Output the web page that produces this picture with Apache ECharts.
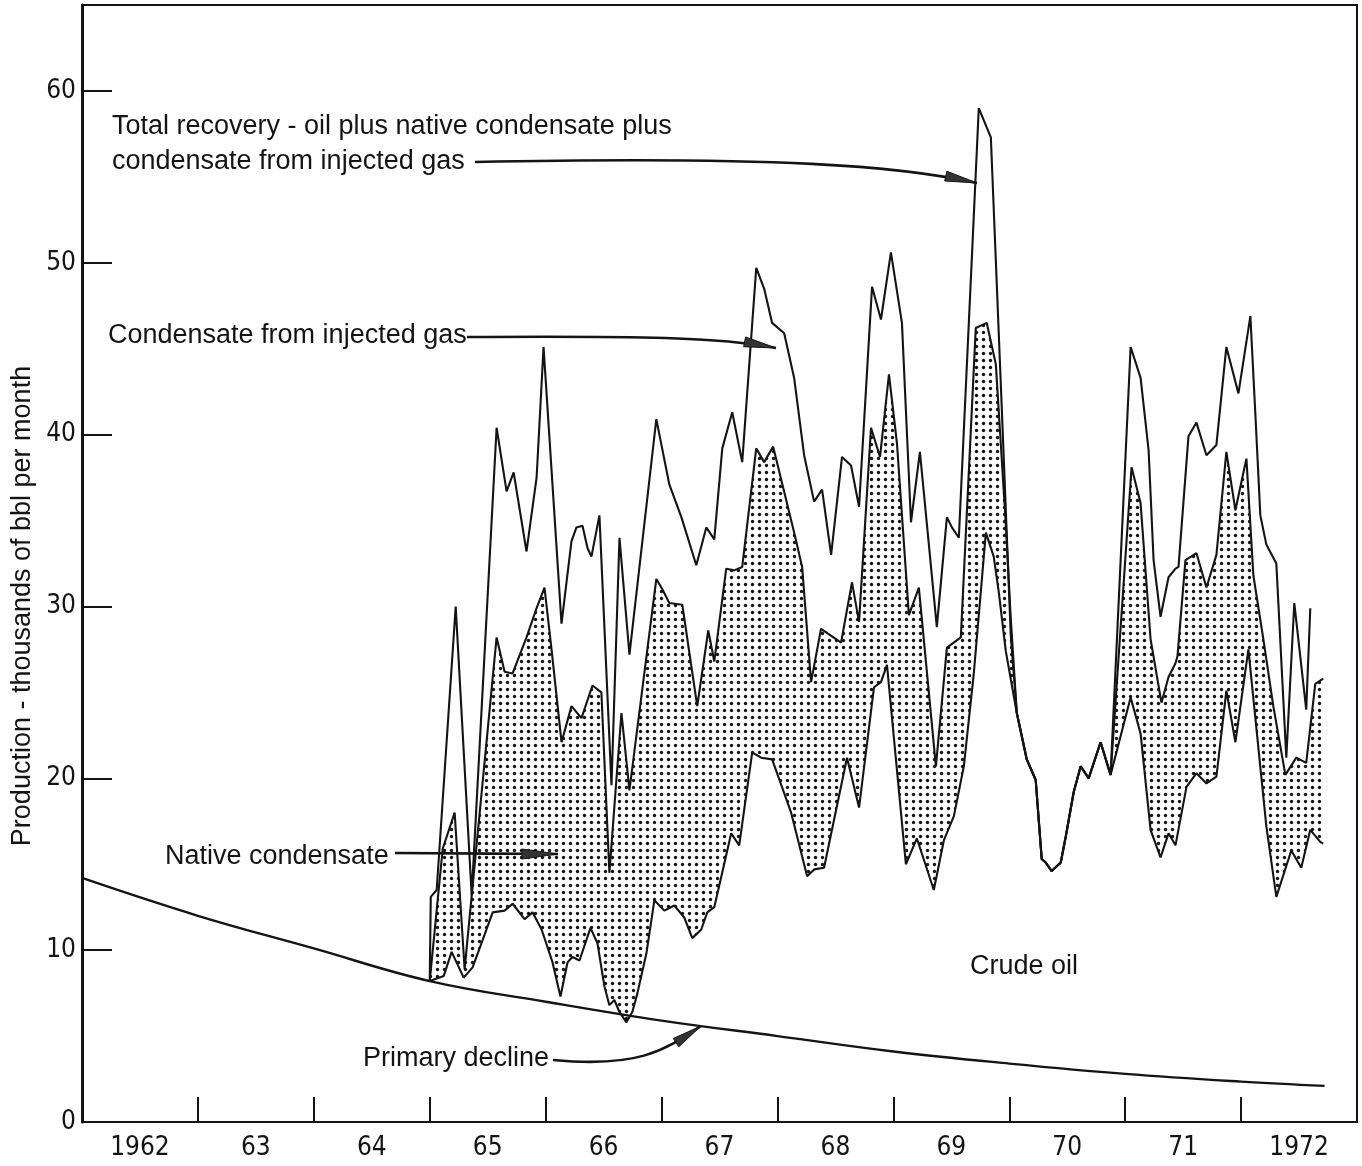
<!DOCTYPE html>
<html>
<head>
<meta charset="utf-8">
<script src="https://cdn.jsdelivr.net/npm/echarts@6/dist/echarts.min.js"></script>
<style>
html,body{margin:0;padding:0;background:#fff;}
#chart{width:1362px;height:1166px;}
</style>
</head>
<body>
<div id="chart"></div>
<script>
// ---- Data (x = fractional year, y = thousand bbl per month) ----
const yearLabels = ['1962','63','64','65','66','67','68','69','70','71','1972'];
const yTickValues = [0,10,20,30,40,50,60];

const primaryDecline = [[1962,14.2],[1963,12.0],[1964,10.1],[1965,8.2],[1966,7.0],[1967,5.9],[1968,5.0],[1969,4.1],[1970,3.4],[1971,2.8],[1972,2.35],[1972.72,2.1]];

// section where all three curves coincide (no condensate)
const combinedFlow = [[1970.065,23.8],[1970.151,21.1],[1970.228,19.9],[1970.280,15.3],[1970.314,15.1],[1970.366,14.6],[1970.444,15.1],[1970.487,16.6],[1970.556,19.2],[1970.616,20.7],[1970.685,20.0],[1970.788,22.1],[1970.874,20.2]];

const totalEarly = [[1965.000,8.2],[1965.009,13.1],[1965.060,13.5],[1965.224,30.0],[1965.362,13.2],[1965.577,40.4],[1965.663,36.7],[1965.724,37.8],[1965.835,33.2],[1965.922,37.5],[1965.982,45.1],[1966.137,29.0],[1966.223,33.8],[1966.266,34.6],[1966.318,34.7],[1966.361,33.4],[1966.395,32.9],[1966.464,35.3],[1966.568,19.6],[1966.637,34.0],[1966.723,27.2],[1966.955,40.9],[1967.067,37.1],[1967.171,35.2],[1967.300,32.4],[1967.386,34.6],[1967.455,33.9],[1967.524,39.2],[1967.610,41.3],[1967.696,38.4],[1967.817,49.7],[1967.885,48.5],[1967.954,46.5],[1968.058,45.9],[1968.144,43.3],[1968.230,38.8],[1968.316,36.1],[1968.385,36.8],[1968.463,33.0],[1968.557,38.7],[1968.635,38.2],[1968.704,35.8],[1968.816,48.6],[1968.893,46.7],[1968.979,50.6],[1969.074,46.5],[1969.152,34.9],[1969.229,39.0],[1969.375,28.8],[1969.462,35.2],[1969.505,34.6],[1969.565,34.0],[1969.737,59.0],[1969.841,57.3],[1969.935,41.6],[1970.013,28.3]];
const totalLate = [[1971.047,45.1],[1971.133,43.3],[1971.202,39.1],[1971.245,32.7],[1971.305,29.4],[1971.374,31.7],[1971.434,32.2],[1971.460,32.3],[1971.546,39.9],[1971.615,40.7],[1971.701,38.8],[1971.787,39.4],[1971.873,45.1],[1971.977,42.4],[1972.080,46.9],[1972.123,41.2],[1972.166,35.3],[1972.218,33.6],[1972.304,32.5],[1972.390,21.2],[1972.459,30.2],[1972.562,24.0],[1972.597,29.9]];

const oilNativeEarly = [[1965.000,8.2],[1965.112,15.9],[1965.215,18.0],[1965.301,8.9],[1965.577,28.2],[1965.646,26.2],[1965.715,26.1],[1965.835,28.2],[1965.922,29.9],[1965.990,31.1],[1966.051,27.5],[1966.137,22.1],[1966.223,24.2],[1966.309,23.5],[1966.404,25.4],[1966.481,25.0],[1966.550,14.5],[1966.654,23.8],[1966.723,19.3],[1966.955,31.6],[1967.007,31.0],[1967.067,30.2],[1967.179,30.1],[1967.308,24.2],[1967.403,28.6],[1967.455,26.8],[1967.558,32.2],[1967.627,32.1],[1967.696,32.3],[1967.817,39.2],[1967.885,38.4],[1967.963,39.3],[1968.144,34.3],[1968.213,32.3],[1968.290,25.6],[1968.376,28.7],[1968.549,27.9],[1968.643,31.4],[1968.704,29.1],[1968.807,40.4],[1968.885,38.7],[1968.962,43.5],[1969.031,39.5],[1969.134,29.5],[1969.220,31.1],[1969.367,20.7],[1969.462,27.6],[1969.582,28.2],[1969.711,46.2],[1969.806,46.5],[1969.884,44.1],[1969.970,34.8],[1970.013,29.3]];
const oilNativeLate = [[1971.055,38.1],[1971.133,36.0],[1971.219,28.1],[1971.313,24.4],[1971.374,25.9],[1971.434,26.7],[1971.451,27.1],[1971.520,32.7],[1971.615,33.1],[1971.701,31.1],[1971.787,33.0],[1971.873,39.0],[1971.951,35.6],[1972.020,37.8],[1972.046,38.6],[1972.106,31.8],[1972.192,28.1],[1972.278,24.2],[1972.382,20.2],[1972.476,21.2],[1972.562,20.9],[1972.640,25.5],[1972.709,25.8]];

const crudeEarly = [[1965.000,8.2],[1965.121,8.5],[1965.189,9.9],[1965.293,8.4],[1965.370,9.0],[1965.457,10.6],[1965.543,12.2],[1965.646,12.3],[1965.715,12.7],[1965.818,11.8],[1965.887,12.2],[1965.965,11.2],[1966.059,9.3],[1966.128,7.3],[1966.189,9.3],[1966.232,9.6],[1966.292,9.4],[1966.387,11.3],[1966.447,10.4],[1966.507,7.9],[1966.550,6.8],[1966.593,7.1],[1966.637,6.4],[1966.697,5.8],[1966.748,6.4],[1966.792,7.5],[1966.869,9.8],[1966.938,12.9],[1967.024,12.3],[1967.110,12.6],[1967.196,11.9],[1967.265,10.7],[1967.343,11.2],[1967.394,12.2],[1967.455,12.5],[1967.601,16.8],[1967.670,16.1],[1967.782,21.5],[1967.860,21.2],[1967.954,21.1],[1968.118,18.0],[1968.256,14.3],[1968.316,14.7],[1968.402,14.8],[1968.600,21.2],[1968.704,18.3],[1968.833,25.3],[1968.893,25.6],[1968.945,26.6],[1969.108,15.0],[1969.203,16.5],[1969.349,13.5],[1969.436,16.4],[1969.522,17.8],[1969.608,20.7],[1969.694,26.1],[1969.798,34.3],[1969.866,32.9],[1969.910,30.8],[1969.970,27.4]];
const crudeLate = [[1971.047,24.7],[1971.133,22.6],[1971.219,17.0],[1971.305,15.4],[1971.374,16.8],[1971.434,16.1],[1971.529,19.5],[1971.615,20.3],[1971.701,19.7],[1971.787,20.1],[1971.873,25.1],[1971.951,22.1],[1972.063,27.5],[1972.218,17.2],[1972.304,13.1],[1972.433,15.8],[1972.519,14.8],[1972.597,17.0],[1972.683,16.3],[1972.709,16.2]];

const totalRecovery = totalEarly.concat(combinedFlow, totalLate);
const oilPlusNative = oilNativeEarly.concat(combinedFlow, oilNativeLate);
const crudeOil = crudeEarly.concat(combinedFlow, crudeLate);

// ---- Styling ----
const INK = '#141414';
const TXT_FONT = "'Liberation Sans', Arial, sans-serif";
const NARROW_FONT = "'Liberation Sans Narrow', 'DejaVu Sans Condensed', 'Liberation Sans', sans-serif";

const dotCanvas = document.createElement('canvas');
dotCanvas.width = 7; dotCanvas.height = 7;
(function(){
  const c = dotCanvas.getContext('2d');
  c.fillStyle = '#111';
  c.beginPath(); c.arc(3.5, 3.5, 1.65, 0, Math.PI * 2); c.fill();
})();
const dotPattern = { image: dotCanvas, repeat: 'repeat' };

function arrowHead(tip, from, len, half) {
  const dx = tip[0] - from[0], dy = tip[1] - from[1];
  const d = Math.hypot(dx, dy), ux = dx / d, uy = dy / d;
  const bx = tip[0] - ux * len, by = tip[1] - uy * len;
  return [[tip[0], tip[1]], [bx - uy * half, by + ux * half], [bx + uy * half, by - ux * half]];
}
function curveArrow(p0, c1, c2, p1, len, half) {
  return [
    { type: 'bezierCurve', z: 50, shape: { x1: p0[0], y1: p0[1], cpx1: c1[0], cpy1: c1[1], cpx2: c2[0], cpy2: c2[1], x2: p1[0], y2: p1[1] },
      style: { stroke: INK, lineWidth: 2.6, fill: null } },
    { type: 'polygon', z: 51, shape: { points: arrowHead(p1, c2, len, half) }, style: { fill: '#333', stroke: INK, lineWidth: 1 } }
  ];
}
function label(text, x, y) {
  return { type: 'text', z: 50, x: x, y: y, style: { text: text, fill: INK, font: "27px " + TXT_FONT, textVerticalAlign: 'middle', textAlign: 'left' } };
}

const chart = echarts.init(document.getElementById('chart'), null, { renderer: 'canvas' });
const option = {
  animation: false,
  backgroundColor: '#fff',
  grid: { left: 82, right: 5, top: 5, bottom: 44, show: true, borderColor: INK, borderWidth: 2, backgroundColor: 'transparent' },
  xAxis: [
    { type: 'value', min: 1962, max: 1973, show: false, position: 'top' },
    { type: 'category', data: yearLabels, boundaryGap: true, position: 'bottom',
      axisLine: { show: true, lineStyle: { color: INK, width: 2 } },
      axisTick: { show: true, inside: true, length: 25, lineStyle: { color: INK, width: 2 } },
      axisLabel: { color: INK, fontFamily: NARROW_FONT, fontSize: 26, margin: 13 },
      splitLine: { show: false } }
  ],
  yAxis: {
    type: 'value', min: 0, max: 65, interval: 10,
    axisLine: { show: true, lineStyle: { color: INK, width: 3 } },
    axisTick: { show: true, inside: true, length: 30, lineStyle: { color: INK, width: 2 }, customValues: yTickValues.slice(1) },
    axisLabel: { color: INK, fontFamily: NARROW_FONT, fontSize: 26, fontWeight: 500, margin: 6, customValues: yTickValues,
      formatter: v => (yTickValues.indexOf(v) >= 0 ? String(v) : '') },
    splitLine: { show: false }
  },
  series: [
    { type: 'custom', name: 'Native condensate', xAxisIndex: 0, yAxisIndex: 0, z: 1,
      data: [[1965, 0]],
      renderItem: function (params, api) {
        if (params.dataIndex !== 0) return;
        const pts = oilPlusNative.map(p => api.coord(p)).concat(crudeOil.slice().reverse().map(p => api.coord(p)));
        return { type: 'polygon', shape: { points: pts }, style: { fill: dotPattern, stroke: null } };
      } },
    { type: 'line', name: 'Primary decline', xAxisIndex: 0, data: primaryDecline, smooth: 0.4, showSymbol: false, z: 3,
      lineStyle: { color: INK, width: 2.4 } },
    { type: 'line', name: 'Crude oil', xAxisIndex: 0, data: crudeOil, showSymbol: false, z: 3,
      lineStyle: { color: INK, width: 2.1 } },
    { type: 'line', name: 'Oil plus native condensate', xAxisIndex: 0, data: oilPlusNative, showSymbol: false, z: 3,
      lineStyle: { color: INK, width: 2.1 } },
    { type: 'line', name: 'Total recovery', xAxisIndex: 0, data: totalRecovery, showSymbol: false, z: 3,
      lineStyle: { color: INK, width: 2.1 } }
  ],
  graphic: [].concat(
    { type: 'text', z: 50, x: 23, y: 606, rotation: Math.PI / 2,
      style: { text: 'Production - thousands of bbl per month', fill: INK, font: "27px " + TXT_FONT, textAlign: 'center', textVerticalAlign: 'middle' } },
    label('Total recovery - oil plus native condensate plus', 112, 127),
    label('condensate from injected gas', 112, 162),
    curveArrow([475, 162], [780, 156], [900, 166], [977, 183], 32, 5),
    label('Condensate from injected gas', 108, 336),
    curveArrow([467, 337], [640, 336], [720, 337], [776, 348], 32, 5),
    label('Native condensate', 165, 857),
    curveArrow([395, 853], [460, 853], [500, 854], [558, 854], 36, 5),
    label('Primary decline', 363, 1059),
    curveArrow([553, 1060], [640, 1068], [665, 1050], [701, 1026], 30, 5),
    label('Crude oil', 970, 967)
  )
};
chart.setOption(option);
</script>
</body>
</html>
